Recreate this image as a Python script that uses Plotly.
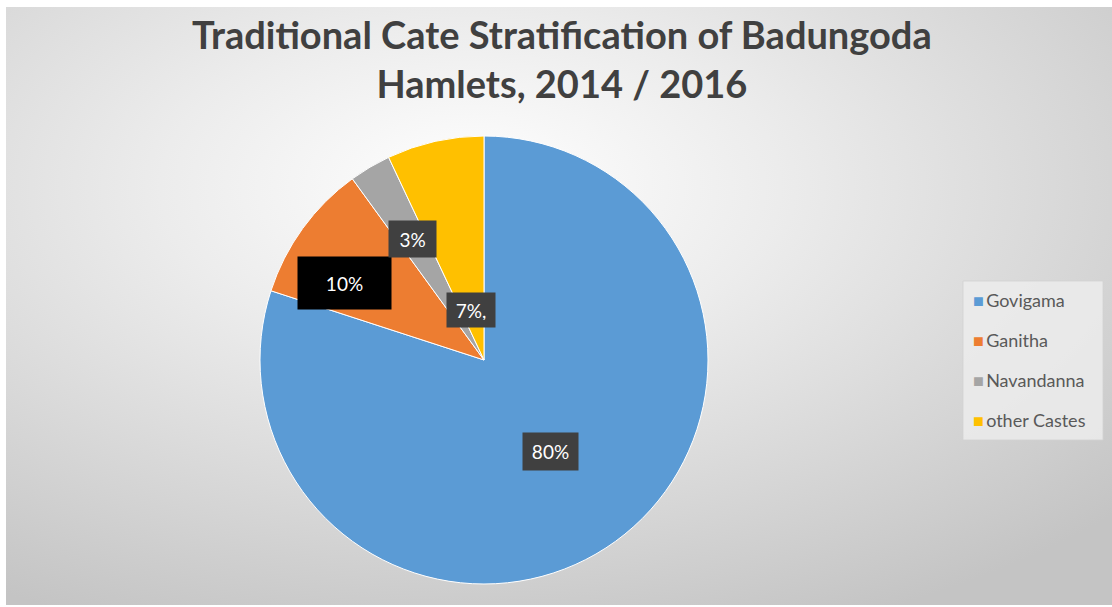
import base64
import math
import plotly.graph_objects as go

# ---- data ----
categories = ["Govigama", "Ganitha", "Navandanna", "other Castes"]
values = [80, 10, 3, 7]
label_texts = ["80%", "10%", "3%", "7%,"]
colors = ["#5B9BD5", "#ED7D31", "#A5A5A5", "#FFC000"]

# ---- geometry (pixels) ----
W, H = 1112, 607
ML, MR, MT, MB = 6, 0, 7, 2
PW, PH = W - ML - MR, H - MT - MB
CX, CY, R = 484, 360, 224


def px_to_paper(px, py):
    return (px - ML) / PW, (H - MB - py) / PH


dx0, dy0 = px_to_paper(CX - R, CY + R)
dx1, dy1 = px_to_paper(CX + R, CY - R)

fig = go.Figure()
fig.add_trace(go.Pie(
    labels=categories, values=values, sort=False, direction="clockwise",
    rotation=0, textinfo="none", hoverinfo="label+percent",
    marker=dict(colors=colors, line=dict(color="#ffffff", width=1)),
    domain=dict(x=[dx0, dx1], y=[dy0, dy1]), showlegend=False,
))

# ---- data labels (boxed) placed near mid-angle of each slice ----
radial_frac = [0.505, 0.71, 0.63, 0.23]
angle_nudge_deg = [0, -7, 0, -2]
box_colors = ["#404040", "#000000", "#404040", "#404040"]
box_w = [41, 79, 33, 34]
box_h = [23, 38, 22, 20]
total = sum(values)
cum = 0
for i, v in enumerate(values):
    mid = (cum + v / 2) / total * 2 * math.pi + math.radians(angle_nudge_deg[i])
    cum += v
    r = R * radial_frac[i]
    px = CX + r * math.sin(mid)
    py = CY - r * math.cos(mid)
    ax_, ay_ = px_to_paper(px, py)
    fig.add_annotation(
        x=ax_, y=ay_, xref="paper", yref="paper", showarrow=False,
        xanchor="center", yanchor="middle",
        text=label_texts[i], font=dict(family="Lato", size=19, color="#ffffff"),
        bgcolor=box_colors[i], borderpad=7, width=box_w[i], height=box_h[i],
        align="center", valign="middle",
    )

# ---- title ----
tx, ty = px_to_paper(562, 58)
fig.add_annotation(
    x=tx, y=ty, xref="paper", yref="paper", showarrow=False,
    xanchor="center", yanchor="middle",
    text="<b>Traditional Cate Stratification of Badungoda<br>Hamlets, 2014 / 2016</b>",
    font=dict(family="Lato", size=38, color="#404040"), align="center",
)

# ---- legend (custom, boxed) ----
lx0, ly0, lx1, ly1 = 963, 281, 1103, 440
p0 = px_to_paper(lx0, ly1)
p1 = px_to_paper(lx1, ly0)
fig.add_shape(type="rect", xref="paper", yref="paper", x0=p0[0], y0=p0[1],
              x1=p1[0], y1=p1[1], fillcolor="rgba(236,236,236,0.85)",
              line=dict(color="rgba(210,210,210,0.8)", width=1), layer="below")
for i, name in enumerate(categories):
    ypx = 300 + i * 40
    xx, yy = px_to_paper(971, ypx)
    fig.add_annotation(
        x=xx, y=yy, xref="paper", yref="paper", showarrow=False,
        xanchor="left", yanchor="middle",
        text=f"<span style='color:{colors[i]}'>■</span>\u2009{name}",
        font=dict(family="Lato", size=18, color="#595959"),
    )

# ---- gradient background ----
svg = (
    "<svg xmlns='http://www.w3.org/2000/svg' width='1106' height='598' preserveAspectRatio='none'>"
    "<defs><radialGradient id='g' cx='0.42' cy='0.3' r='0.8'>"
    "<stop offset='0' stop-color='#ffffff'/>"
    "<stop offset='0.35' stop-color='#ececec'/>"
    "<stop offset='1' stop-color='#c4c4c4'/>"
    "</radialGradient></defs>"
    "<rect width='1106' height='598' fill='url(#g)'/></svg>"
)
src = "data:image/svg+xml;base64," + base64.b64encode(svg.encode()).decode()
fig.add_layout_image(dict(source=src, xref="paper", yref="paper", x=0, y=1,
                          sizex=1, sizey=1, sizing="stretch", layer="below",
                          xanchor="left", yanchor="top"))

fig.update_layout(
    width=W, height=H,
    margin=dict(l=ML, r=MR, t=MT, b=MB),
    paper_bgcolor="#ffffff", plot_bgcolor="rgba(0,0,0,0)",
    showlegend=False,
)

fig.write_html("out.html")
